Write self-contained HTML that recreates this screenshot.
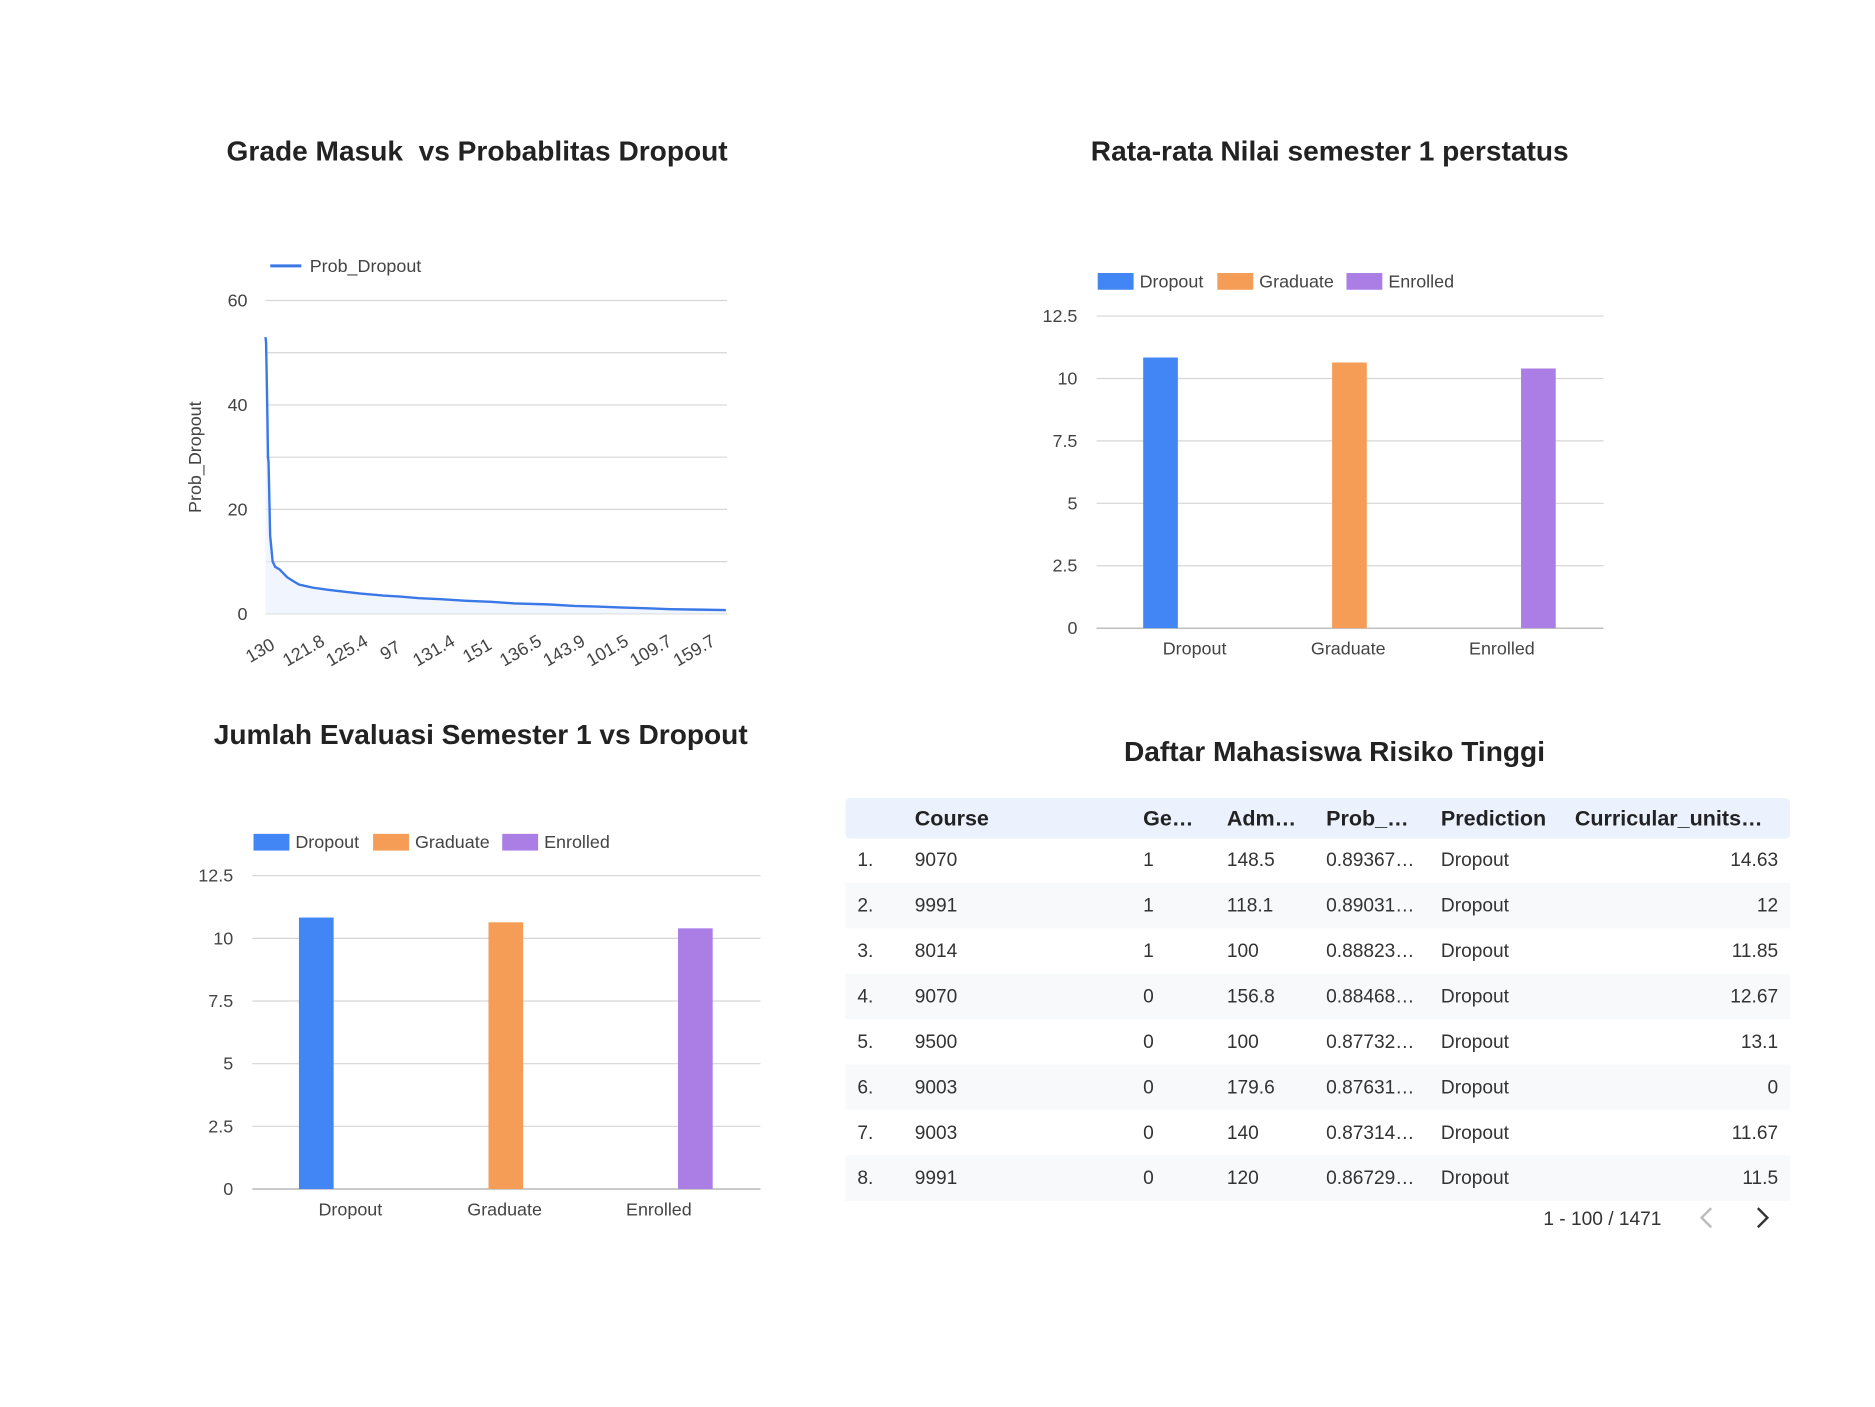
<!DOCTYPE html>
<html><head><meta charset="utf-8"><style>
html,body{margin:0;padding:0;background:#fff;}
svg{display:block;font-family:"Liberation Sans",Arial,sans-serif;}
.title{font-size:23.5px;font-weight:bold;fill:#222;}
.tick{font-size:15px;fill:#444;}
.grid{stroke:#d6d6d6;stroke-width:1;}
.cell{font-size:16px;fill:#333;}
.hdr{font-size:18px;font-weight:bold;fill:#222;}
</style></head><body>
<svg id="root" width="1875" height="1407" viewBox="0 0 1568 1176" xmlns="http://www.w3.org/2000/svg">
<rect width="1568" height="1176" fill="#fff"/>
<g id="c1"></g>
<g id="c2"></g>
<g id="c3"></g>
<g id="tbl"></g>
</svg>
<script>
// ---- Line chart data ----
const lineRanks = [0,2,4,6,8,10,15,23,31,45,69,90,107,130,153,200,241,300,375,430,490,560,642,720,795,900,987,1060,1140,1220,1293,1380,1470];
const lineValues = [53,52,46,38,30,29,15,10,9,8.5,7,6.2,5.6,5.3,5.0,4.6,4.3,3.9,3.5,3.3,3.0,2.8,2.5,2.3,2.0,1.8,1.5,1.4,1.2,1.05,0.9,0.8,0.7];
const lineXTicks = ["130","121.8","125.4","97","131.4","151","136.5","143.9","101.5","109.7","159.7"];
const lineYTicks = [0,20,40,60];
// ---- Bar chart data ----
const barCategories = ["Dropout","Graduate","Enrolled"];
const barValues1 = [10.84,10.64,10.40];
const barValues2 = [10.83,10.64,10.40];
const barYTicks = ["0","2.5","5","7.5","10","12.5"];
const barColors = ["#4285f4","#f59d56","#ab7ee6"];
// ---- Table data ----
const tableHeaders = ["Course","Ge…","Adm…","Prob_…","Prediction","Curricular_units…"];
const tableRows = [
 ["9070","1","148.5","0.89367…","Dropout","14.63"],
 ["9991","1","118.1","0.89031…","Dropout","12"],
 ["8014","1","100","0.88823…","Dropout","11.85"],
 ["9070","0","156.8","0.88468…","Dropout","12.67"],
 ["9500","0","100","0.87732…","Dropout","13.1"],
 ["9003","0","179.6","0.87631…","Dropout","0"],
 ["9003","0","140","0.87314…","Dropout","11.67"],
 ["9991","0","120","0.86729…","Dropout","11.5"]
];
const NS="http://www.w3.org/2000/svg";
function mk(parent,tag,attrs,text){const e=document.createElementNS(NS,tag);for(const k in attrs)e.setAttribute(k,attrs[k]);if(text!==undefined)e.textContent=text;parent.appendChild(e);return e;}

// ---------- Chart 1 ----------
(function(){
 const g=document.getElementById('c1');
 const x0=222,x1=607,y0=513,y1=251,maxY=60,maxR=1470;
 const sx=r=>x0+(r/maxR)*(x1-x0), sy=v=>y0-(v/maxY)*(y0-y1);
 let t=mk(g,'text',{x:399,y:134,'text-anchor':'middle',class:'title','xml:space':'preserve',style:'white-space:pre'},'Grade Masuk  vs Probablitas Dropout');
 
 
 let l=mk(g,'line',{x1:226,y1:222,x2:252,y2:222,stroke:'#3b78e7','stroke-width':2.5});
 
 
 t=mk(g,'text',{x:259,y:227,class:'tick'},'Prob_Dropout');
 
 
 for(let v=0;v<=60;v+=10){const gl=mk(g,'line',{x1:x0,x2:608,y1:sy(v),y2:sy(v),class:'grid'});
  
  }
 lineYTicks.forEach(v=>{const e=mk(g,'text',{x:207,y:sy(v)+5,'text-anchor':'end',class:'tick'},String(v));
  
  });
 t=mk(g,'text',{x:0,y:0,transform:'translate(168,382) rotate(-90)','text-anchor':'middle',class:'tick'},'Prob_Dropout');
 
 
 lineXTicks.forEach((s,i)=>{const cx=220+i*36.3;const e=mk(g,'text',{x:0,y:0,transform:`translate(${cx},548) rotate(-30)`,'text-anchor':'middle',class:'tick'},s);
  
  });
 let d='',a='';
 lineRanks.forEach((r,i)=>{d+=(i?'L':'M')+sx(r).toFixed(1)+' '+sy(lineValues[i]).toFixed(1);});
 a=d+`L${sx(maxR)} ${y0}L${x0} ${y0}Z`;
 const ar=mk(g,'path',{d:a,fill:'#e8f0fe',opacity:0.6});
 
 
 const p=mk(g,'path',{d:d,fill:'none',stroke:'#3b78e7','stroke-width':2});
 
 
})();

// ---------- Bar charts ----------
function barChart(id,title,titleX,titleY,legendY,legX,x0,x1,y0,y1,labX,labStep,barX,barStep,vals){
 const g=document.getElementById(id);
 const maxY=12.5, sy=v=>y0-(v/maxY)*(y0-y1);
 let t=mk(g,'text',{x:titleX,y:titleY,'text-anchor':'middle',class:'title'},title);
 
 
 const legOff=[0,100,208];
 barCategories.forEach((c,i)=>{
  const r=mk(g,'rect',{x:legX+legOff[i],y:legendY-7,width:30,height:14,fill:barColors[i]});
  
  
  const e=mk(g,'text',{x:legX+legOff[i]+35,y:legendY+5,class:'tick'},c);
  
  
 });
 barYTicks.forEach((s,i)=>{const v=parseFloat(s);
  const gl=mk(g,'line',{x1:x0,x2:x1,y1:sy(v),y2:sy(v),class:'grid'});
  if(v===0)gl.setAttribute('style','stroke:#aaa');
  
  
  const e=mk(g,'text',{x:x0-16,y:sy(v)+5,'text-anchor':'end',class:'tick'},s);
  
  
 });
 vals.forEach((v,i)=>{
  const bx=barX+i*barStep;
  const r=mk(g,'rect',{x:bx,y:sy(v),width:29,height:y0-sy(v),fill:barColors[i]});
  
  
  const e=mk(g,'text',{x:labX+i*labStep,y:y0+22,'text-anchor':'middle',class:'tick'},barCategories[i]);
  
  
 });
}
barChart('c2','Rata-rata Nilai semester 1 perstatus',1112,134,235,918,917,1341,525,264,999,128.5,956,158,barValues1);
barChart('c3','Jumlah Evaluasi Semester 1 vs Dropout',402,622,704,212,211,636,994,732,293,129,250,158.5,barValues2);

// ---------- Table ----------
(function(){
 const g=document.getElementById('tbl');
 let t=mk(g,'text',{x:1116,y:636,'text-anchor':'middle',class:'title'},'Daftar Mahasiswa Risiko Tinggi');
 
 
 const hb=mk(g,'rect',{x:707,y:667,width:790,height:34,rx:4,fill:'#ebf2fe'});
 
 
 const colX=[765,956,1026,1109,1205,1317];
 tableHeaders.forEach((h,i)=>{const e=mk(g,'text',{x:colX[i],y:690,class:'hdr'},h);
  
  });
 tableRows.forEach((row,r)=>{
  const cy=719+r*38;
  if(r%2===1){const b=mk(g,'rect',{x:707,y:cy-19,width:790,height:38,fill:'#f8f9fa'});
   
   }
  const n=mk(g,'text',{x:717,y:cy+5,class:'cell'},(r+1)+'.');
  
  
  row.forEach((v,i)=>{
   const last=i===row.length-1;
   const e=mk(g,'text',{x:last?1487:colX[i],y:cy+5,'text-anchor':last?'end':'start',class:'cell'},v);
   
   
  });
 });
 t=mk(g,'text',{x:1340,y:1024,'text-anchor':'middle',class:'cell'},'1 - 100 / 1471');
 
 
 const pv=mk(g,'path',{d:'M1431 1010 L1423 1018 L1431 1026',fill:'none',stroke:'#bbb','stroke-width':2});
 
 
 const nx=mk(g,'path',{d:'M1470 1010 L1478 1018 L1470 1026',fill:'none',stroke:'#333','stroke-width':2});
 
 
})();
</script>
</body></html>
